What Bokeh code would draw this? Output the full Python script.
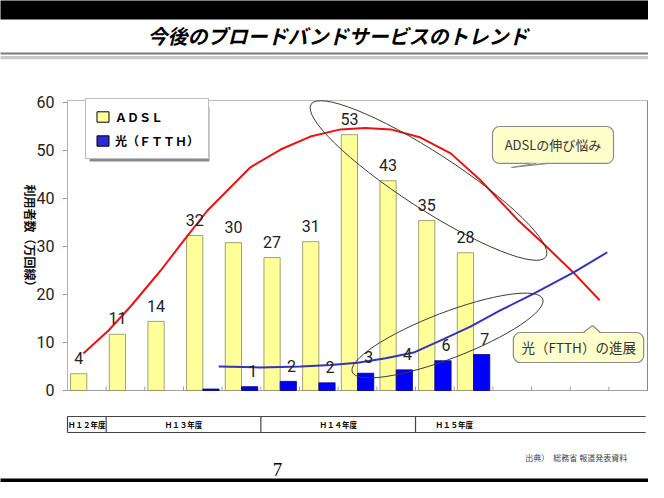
import math
from bokeh.plotting import figure
from bokeh.models import FixedTicker, Legend, LegendItem
from bokeh.core.properties import value
from bokeh.embed import file_html
from bokeh.resources import INLINE

# ---------------- data ----------------
months = ["3月末", "6月末", "9月末", "12月末", "3月末", "6月末", "9月末", "12月末", "3月末", "6月末", "9月末"]
n_slots = 15
adsl = [3.5, 11.7, 14.4, 32.3, 30.8, 27.7, 31.0, 53.3, 43.7, 35.4, 28.7]
adsl_labels = ["4", "11", "14", "32", "30", "27", "31", "53", "43", "35", "28"]
ftth = [0, 0, 0, 0.3, 0.8, 1.9, 1.6, 3.6, 4.3, 6.2, 7.5]
ftth_labels = ["", "", "", "", "1", "2", "2", "3", "4", "6", "7"]
fiscal_years = ["Ｈ１２年度", "Ｈ１３年度", "Ｈ１４年度", "Ｈ１５年度"]
fy_quarters = [1, 4, 4, 2]
y_ticks = [0, 10, 20, 30, 40, 50, 60]
# hand-drawn trend curves (x in category slots, y in 万回線)
adsl_trend_x = [0.41, 1.06, 1.63, 2.41, 3.05, 3.62, 4.73, 5.51, 6.28, 7.06, 7.70, 8.36, 9.13, 9.91, 10.68, 11.66, 12.33, 13.08, 13.76]
adsl_trend_y = [7.7, 12.5, 17.5, 25.0, 31.7, 37.5, 46.5, 50.2, 52.9, 54.4, 54.7, 54.4, 52.7, 49.4, 43.8, 35.4, 30.4, 24.6, 18.8]
ftth_trend_x = [3.91, 4.99, 6.03, 6.81, 7.50, 8.23, 8.95, 9.64, 10.42, 11.19, 11.97, 13.09, 13.96]
ftth_trend_y = [5.0, 4.8, 5.0, 5.3, 5.8, 6.7, 7.9, 10.4, 13.3, 16.7, 19.8, 24.6, 28.8]

# ---------------- figure ----------------
p = figure(width=648, height=482, x_range=(-1.7326, 15.0246), y_range=(-19.167, 81.25),
           min_border=0, toolbar_location=None, output_backend="svg",
           outline_line_color=None, background_fill_color="white", border_fill_color="white")
p.xgrid.visible = False
p.ygrid.visible = False

# y axis placed at the left edge of the category area
p.yaxis.fixed_location = 0
p.yaxis.bounds = (0, 60.42)
p.yaxis.ticker = FixedTicker(ticks=y_ticks)
p.yaxis.axis_line_color = "#b4b4b4"
p.yaxis.major_tick_line_color = "#9a9a9a"
p.yaxis.major_tick_out = 5
p.yaxis.major_tick_in = 0
p.yaxis.minor_tick_line_color = None
p.yaxis.major_label_text_font = "Roboto"
p.yaxis.major_label_text_font_size = "16px"
p.yaxis.major_label_text_color = "#222222"
p.yaxis.major_label_standoff = 8
p.xaxis.visible = False

# category baseline and slot ticks
edges_x = list(range(n_slots + 1))
p.segment(x0=[0], y0=[0], x1=[n_slots], y1=[0], line_color="#a0a0a0", line_width=1)
p.segment(x0=edges_x, y0=[0] * len(edges_x), x1=edges_x, y1=[0.83] * len(edges_x),
          line_color="#a0a0a0", line_width=1)

# header: black band, title, rules
p.quad(left=[-2], right=[16], bottom=[77.29], top=[82], fill_color="black", line_color=None)
p.text(x=[6.98], y=[73.96], text=["今後のブロードバンドサービスのトレンド"],
       text_font=value("Noto Sans CJK JP"), text_font_size="20px", text_font_style="bold italic",
       text_align="center", text_baseline="middle", text_color="black")
p.quad(left=[-2], right=[16], bottom=[69.98], top=[70.4], fill_color="#7c7c7c", line_color=None)
p.quad(left=[-2], right=[16], bottom=[69.0], top=[69.7], fill_color="#c8c8c8", line_color=None)

# plot area border (top, right)
p.segment(x0=[0], y0=[60.42], x1=[n_slots], y1=[60.42], line_color="#bcbcbc", line_width=1)
p.segment(x0=[n_slots], y0=[0], x1=[n_slots], y1=[60.42], line_color="#8a8a8a", line_width=1.2)

# bars
bw = 0.42
ax = [i + 0.5 - bw / 2 for i in range(len(adsl))]
p.vbar(x=ax, top=adsl, width=bw, fill_color="#FFFF99", line_color="#8c8c5a", line_width=0.8)
fx = [i + 0.5 + bw / 2 for i in range(len(ftth)) if ftth[i] > 0]
fv = [v for v in ftth if v > 0]
p.vbar(x=fx, top=fv, width=bw, fill_color="#0000FF", line_color="#00008B", line_width=0.8)

# trend curves
p.line(adsl_trend_x, adsl_trend_y, line_color="#EE1111", line_width=2, line_join="round")
p.line(ftth_trend_x, ftth_trend_y, line_color="#3333BB", line_width=2, line_join="round")

# annotation ellipses
p.ellipse(x=[9.335], y=[43.75], width=[280], height=[56], angle=[-0.576],
          width_units="screen", height_units="screen", fill_color=None,
          line_color="#3c3c30", line_width=1)
p.ellipse(x=[9.827], y=[11.46], width=[204], height=[46], angle=[0.3665],
          width_units="screen", height_units="screen", fill_color=None,
          line_color="#3c3c30", line_width=1)

# data labels
lab_font = value("Roboto")
p.text(x=ax, y=[v + 3.3 for v in adsl], text=adsl_labels, text_font=lab_font,
       text_font_size="16px", text_align="center", text_baseline="middle", text_color="#222222")
flx = [i + 0.5 + bw / 2 + 0.08 for i in range(len(ftth)) if ftth_labels[i]]
fly = [ftth[i] + 3.3 for i in range(len(ftth)) if ftth_labels[i]]
flt = [t for t in ftth_labels if t]
p.text(x=flx, y=fly, text=flt, text_font=lab_font,
       text_font_size="16px", text_align="center", text_baseline="middle", text_color="#222222")

# callout 1
call_fill = "#FFFFCC"
call_line = "#8a8a8a"
p.quad(left=[10.99], right=[14.12], top=[55.0], bottom=[47.3], fill_color=call_fill,
       line_color=call_line, line_width=1.2, border_radius=7)
p.patch(x=[11.48, 12.13, 12.44], y=[46.46, 47.55, 47.55], fill_color=call_fill, line_color=None)
p.segment(x0=[11.48, 11.48], y0=[46.46, 46.46], x1=[12.13, 12.44], y1=[47.3, 47.3],
          line_color=call_line, line_width=1.2)
p.text(x=[12.555], y=[51.15], text=["ADSLの伸び悩み"], text_font=value("Noto Sans CJK JP"),
       text_font_size="13px", text_align="center", text_baseline="middle", text_color="#333333")

# callout 2
p.quad(left=[11.53], right=[14.90], top=[12.08], bottom=[5.83], fill_color=call_fill,
       line_color=call_line, line_width=1.2, border_radius=7)
p.patch(x=[13.34, 13.58, 13.78], y=[11.8, 13.54, 11.8], fill_color=call_fill, line_color=None)
p.segment(x0=[13.58, 13.58], y0=[13.54, 13.54], x1=[13.34, 13.78], y1=[12.08, 12.08],
          line_color=call_line, line_width=1.2)
p.text(x=[13.22], y=[8.96], text=["光（FTTH）の進展"], text_font=value("Noto Sans CJK JP"),
       text_font_size="13.5px", text_align="center", text_baseline="middle", text_color="#333333")

# y axis title
p.text(x=[-0.957], y=[31.67], text=["利用者数（万回線）"], angle=[-math.pi / 2],
       text_font=value("Noto Sans CJK JP"), text_font_size="12px", text_font_style="bold",
       text_align="center", text_baseline="middle", text_color="#111111")

# fiscal-year table
edges = [0]
for q in fy_quarters:
    edges.append(edges[-1] + q)
t_top, t_bot = -5.42, -8.75
p.segment(x0=[0, 0], y0=[t_top, t_bot], x1=[14.95, 14.95], y1=[t_top, t_bot],
          line_color="#444444", line_width=1.2)
p.segment(x0=edges[:-1], y0=[t_top] * (len(edges) - 1), x1=edges[:-1], y1=[t_bot] * (len(edges) - 1),
          line_color="#444444", line_width=1.2)
centers = [(edges[i] + edges[i + 1]) / 2 for i in range(len(fy_quarters))]
p.text(x=centers, y=[(t_top + t_bot) / 2] * len(centers), text=fiscal_years,
       text_font=value("Noto Sans CJK JP"), text_font_size="7.5px", text_font_style="bold",
       text_align="center", text_baseline="middle", text_color="black")

# source & page number
p.text(x=[11.84], y=[-13.96], text=["出典）　総務省 報道発表資料"], text_font=value("Noto Sans CJK JP"),
       text_font_size="8px", text_align="left", text_baseline="middle", text_color="#444444")
p.text(x=[5.43], y=[-17.9], text=["7"], text_font=value("Liberation Serif"),
       text_font_size="19px", text_align="center", text_baseline="bottom", text_color="black")
p.quad(left=[-2], right=[16], bottom=[-22], top=[-18.33], fill_color="black", line_color=None)

# legend (swatch-only renderers with no drawable points)
nan = float("nan")
p.quad(left=[0.57], right=[3.67], top=[59.17], bottom=[47.71], fill_color="#8a8a8a", line_color=None)
r_la = p.vbar(x=[nan], top=[nan], width=0.4, fill_color="#FFFF99", line_color="black", line_width=1)
r_lf = p.vbar(x=[nan], top=[nan], width=0.4, fill_color="#2b2bd0", line_color="black", line_width=1)
legend = Legend(items=[LegendItem(label="ＡＤＳＬ", renderers=[r_la]),
                       LegendItem(label="光（ＦＴＴＨ）", renderers=[r_lf])],
                location=(85, 323), glyph_width=15, glyph_height=13, label_height=13,
                label_standoff=5, padding=9, spacing=7, margin=0,
                label_text_font="Noto Sans CJK JP", label_text_font_size="12px",
                label_text_font_style="bold", label_text_color="black",
                border_line_color="#7f7f7f", border_line_width=1,
                background_fill_color="white", background_fill_alpha=1.0)
p.add_layout(legend)

open("out.html", "w").write(file_html(p, INLINE))
